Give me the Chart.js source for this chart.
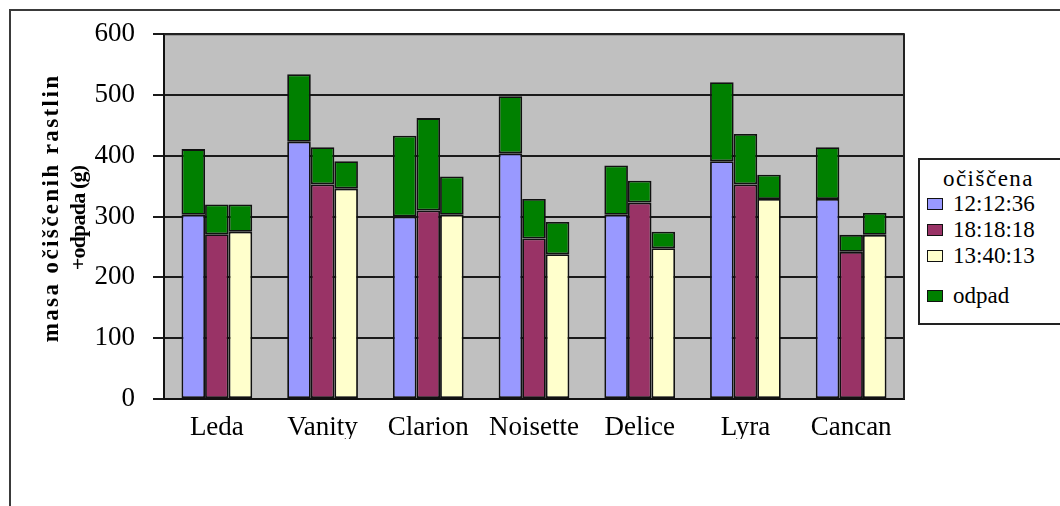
<!DOCTYPE html>
<html>
<head>
<meta charset="utf-8">
<script src="https://cdn.jsdelivr.net/npm/chart.js@4"></script>
<style>
  html, body { margin: 0; padding: 0; background: #fff; }
  #wrap { position: relative; width: 1060px; height: 506px; overflow: hidden; }
  #frame { position: absolute; left: 9px; top: 9px; width: 1100px; height: 600px;
           border-left: 2px solid #3a3a3a; border-top: 2px solid #3a3a3a; }
  #chart { position: absolute; left: 0; top: 0; }
  #legend { position: absolute; left: 918px; top: 158px; width: 170px; height: 163px;
            border: 2px solid #222; background: #fff;
            font-family: "Liberation Serif", "Times New Roman", serif; font-size: 23px; color: #000; }
  #legend .title { position: absolute; left: 0; width: 137px; top: 6px; height: 26px; line-height: 26px;
                   text-align: center; letter-spacing: 1.5px; }
  #legend .row { position: absolute; left: 7px; height: 26px; display: flex; align-items: center; }
  #legend .sw { width: 14px; height: 10px; border: 1.5px solid #111; margin-right: 10px; }
</style>
</head>
<body>
<div id="wrap">
  <div id="frame"></div>
  <canvas id="chart" width="1060" height="506"></canvas>
  <div id="legend"></div>
</div>
<script>
// Varieties on the category axis
const categories = ['Leda', 'Vanity', 'Clarion', 'Noisette', 'Delice', 'Lyra', 'Cancan'];

// Cleaned plant mass (g) for each cleaning run
const seriesLabels = ['12:12:36', '18:18:18', '13:40:13'];
const cleaned1 = [303, 423, 300, 404, 303, 391, 329];
const cleaned2 = [271, 353, 310, 264, 323, 353, 242];
const cleaned3 = [275, 346, 303, 238, 248, 329, 270];

// Waste (g) stacked on top of each run
const wasteLabel = 'odpad';
const waste1 = [108, 111, 133, 94, 81, 130, 85];
const waste2 = [49, 61, 152, 65, 36, 83, 28];
const waste3 = [45, 45, 63, 53, 27, 40, 36];

// Value axis ticks
const yTickValues = [0, 100, 200, 300, 400, 500, 600];

const legendTitle = 'očiščena';
const yTitleLines = ['masa očiščenih rastlin', '+odpada (g)'];

const colors = ['#9999ff', '#993366', '#ffffcc'];
const wasteColor = '#008000';
const edge = '#111111';

function barSet(label, data, color, stack, hidden) {
  return {
    label, data, stack,
    backgroundColor: color,
    borderColor: edge,
    borderWidth: 1.8,
    borderSkipped: false,
    inLegend: !hidden
  };
}

const datasets = [
  barSet(seriesLabels[0], cleaned1, colors[0], 'r1'),
  barSet(seriesLabels[1], cleaned2, colors[1], 'r2'),
  barSet(seriesLabels[2], cleaned3, colors[2], 'r3'),
  barSet(wasteLabel, waste1, wasteColor, 'r1'),
  barSet(wasteLabel, waste2, wasteColor, 'r2', true),
  barSet(wasteLabel, waste3, wasteColor, 'r3', true)
];

const serif = 'Liberation Serif';

// Grey plot background, closing frame lines and the rotated value-axis title
const plotFrame = {
  id: 'plotFrame',
  beforeDraw(chart) {
    const { ctx, chartArea: a } = chart;
    ctx.save();
    ctx.fillStyle = '#c0c0c0';
    ctx.fillRect(a.left, a.top, a.right - a.left, a.bottom - a.top);
    ctx.restore();
  },
  afterDatasetsDraw(chart) {
    const { ctx, chartArea: a } = chart;
    ctx.save();
    ctx.strokeStyle = '#222';
    ctx.lineWidth = 2;
    ctx.beginPath();
    ctx.moveTo(a.left, a.top);
    ctx.lineTo(a.right, a.top);
    ctx.lineTo(a.right, a.bottom);
    ctx.stroke();
    ctx.restore();
  },
  afterDraw(chart) {
    const { ctx } = chart;
    const lines = [
      { text: yTitleLines[0], x: 52, y: 208, size: 23, spacing: '2.4px' },
      { text: yTitleLines[1], x: 79, y: 218, size: 22, spacing: '-0.8px' }
    ];
    lines.forEach(l => {
      ctx.save();
      ctx.translate(l.x, l.y);
      ctx.rotate(-Math.PI / 2);
      ctx.font = `bold ${l.size}px "${serif}"`;
      ctx.letterSpacing = l.spacing;
      ctx.fillStyle = '#000';
      ctx.textAlign = 'center';
      ctx.textBaseline = 'middle';
      ctx.fillText(l.text, 0, 0);
      ctx.restore();
    });
  }
};

const chart = new Chart(document.getElementById('chart'), {
  type: 'bar',
  data: { labels: categories, datasets },
  options: {
    responsive: false,
    animation: false,
    categoryPercentage: 0.669,
    barPercentage: 1.0,
    layout: { padding: { left: 0, top: 34, right: 156, bottom: 67 } },
    plugins: {
      legend: { display: false },
      tooltip: { enabled: false }
    },
    scales: {
      x: {
        stacked: true,
        grid: { display: false, drawTicks: false },
        border: { display: true, color: '#111', width: 2 },
        ticks: { color: '#000', padding: 13, font: { family: serif, size: 27, lineHeight: 1.2 } },
        afterFit(scale) { scale.height = 40; }
      },
      y: {
        stacked: true,
        min: 0,
        max: 600,
        afterBuildTicks(scale) { scale.ticks = yTickValues.map(v => ({ value: v })); },
        grid: { color: '#1a1a1a', lineWidth: 2, tickLength: 11, drawTicks: true },
        border: { display: true, color: '#111', width: 2 },
        ticks: { color: '#000', padding: 18, font: { family: serif, size: 27 } },
        afterFit(scale) { scale.width = 164; }
      }
    }
  },
  plugins: [plotFrame]
});

// Legend box built from the datasets
(function buildLegend() {
  const box = document.getElementById('legend');
  const t = document.createElement('div');
  t.className = 'title';
  t.textContent = legendTitle;
  box.appendChild(t);
  const centers = [44, 70, 96, 136];
  let i = 0;
  chart.data.datasets.forEach(ds => {
    if (!ds.inLegend) return;
    const row = document.createElement('div');
    row.className = 'row';
    row.style.top = (centers[i] - 13) + 'px';
    const sw = document.createElement('div');
    sw.className = 'sw';
    sw.style.background = ds.backgroundColor;
    const tx = document.createElement('span');
    tx.textContent = ds.label;
    row.appendChild(sw);
    row.appendChild(tx);
    box.appendChild(row);
    i++;
  });
})();
</script>
</body>
</html>
